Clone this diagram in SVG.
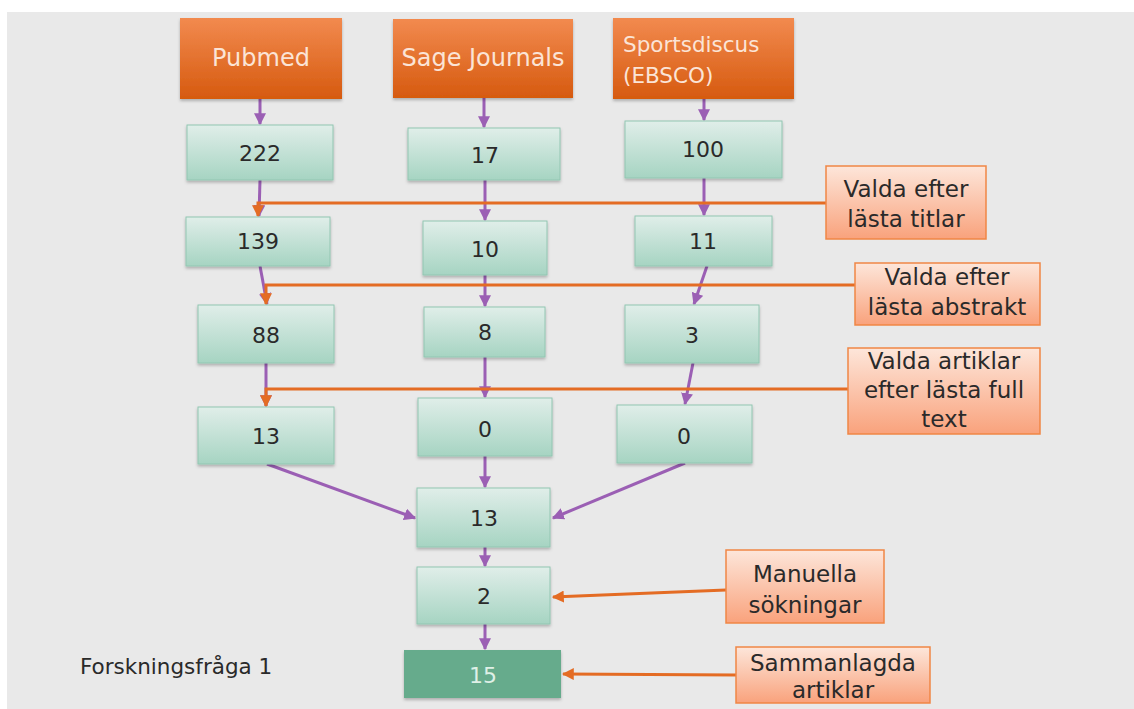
<svg xmlns="http://www.w3.org/2000/svg" width="1134" height="709" viewBox="0 0 1134 709">
<defs>
<linearGradient id="gOr" x1="0" y1="0" x2="0" y2="1"><stop offset="0" stop-color="#f28a4f"/><stop offset="1" stop-color="#d65a0f"/></linearGradient>
<linearGradient id="gGr" x1="0" y1="0" x2="0" y2="1"><stop offset="0" stop-color="#e0eee9"/><stop offset="1" stop-color="#a6d4c2"/></linearGradient>
<linearGradient id="gLb" x1="0" y1="0" x2="0" y2="1"><stop offset="0" stop-color="#fde6da"/><stop offset="1" stop-color="#f9a27c"/></linearGradient>
<filter id="sh" x="-10%" y="-10%" width="120%" height="130%"><feDropShadow dx="0" dy="2" stdDeviation="1.5" flood-color="#000" flood-opacity="0.25"/></filter>
<marker id="mP" viewBox="0 0 10 10" refX="9" refY="5" markerWidth="4" markerHeight="4" orient="auto"><path d="M0,0L10,5L0,10z" fill="#9b5fb4"/></marker>
<marker id="mO" viewBox="0 0 10 10" refX="9" refY="5" markerWidth="4" markerHeight="4" orient="auto"><path d="M0,0L10,5L0,10z" fill="#e46c24"/></marker>
</defs>
<style>
.hdr{fill:url(#gOr);filter:url(#sh)}
.num{fill:url(#gGr);stroke:#92c6b2;stroke-width:1;filter:url(#sh)}
.lab{fill:url(#gLb);stroke:#f08645;stroke-width:1.5}
text{font-family:"DejaVu Sans","Liberation Sans",sans-serif;font-size:23px;text-anchor:middle}
.ht{fill:#fbe4d6;font-size:24px}
.ht2{fill:#fbe4d6;font-size:21.5px;text-anchor:start}
.nt{fill:#2a2a2a;font-size:22px}
.lt{fill:#2a2a2a}
.pp{stroke:#9b5fb4;stroke-width:3;fill:none;marker-end:url(#mP)}
.oo{stroke:#e46c24;stroke-width:3;fill:none;marker-end:url(#mO)}
</style>
<rect x="0" y="0" width="1134" height="709" fill="#ffffff"/>
<rect x="7" y="12" width="1127" height="697" fill="#e9e9e9"/>

<g id="connectors">
<path class="pp" d="M260,98 L260,124"/>
<path class="pp" d="M484,98 L484,127"/>
<path class="pp" d="M704,99 L704,120"/>
<path class="pp" d="M260,180 L259,216"/>
<path class="pp" d="M485,180 L485,220"/>
<path class="pp" d="M704,178 L704,215"/>
<path class="pp" d="M260,266 L267,304"/>
<path class="pp" d="M485,275 L485,306"/>
<path class="pp" d="M707,266 L694,304"/>
<path class="pp" d="M266,363 L266,406"/>
<path class="pp" d="M485,357 L485,397"/>
<path class="pp" d="M693,363 L685,404"/>
<path class="pp" d="M267,464 L415,518"/>
<path class="pp" d="M485,456 L485,487"/>
<path class="pp" d="M685,463 L553,518"/>
<path class="pp" d="M485,547 L485,566"/>
<path class="pp" d="M485,624 L485,649"/>
<path class="oo" d="M826,203 L258,203 L258,216"/>
<path class="oo" d="M855,285 L266,285 L266,304"/>
<path class="oo" d="M848,389 L266,389 L266,406"/>
<path class="oo" d="M726,590 L553,597"/>
<path class="oo" d="M736,675 L563,674"/>
</g>

<g id="pubmed"><rect class="hdr" x="180" y="18" width="162" height="81"/><text class="ht" x="261" y="66">Pubmed</text></g>
<g id="sage"><rect class="hdr" x="393" y="19" width="180" height="79"/><text class="ht" x="483" y="66">Sage Journals</text></g>
<g id="sports"><rect class="hdr" x="613" y="18" width="181" height="81"/><text class="ht2" x="623" y="52">Sportsdiscus</text><text class="ht2" x="623" y="83">(EBSCO)</text></g>

<g id="n222"><rect class="num" x="187" y="125" width="146" height="55"/><text class="nt" x="260" y="161">222</text></g>
<g id="n17"><rect class="num" x="408" y="128" width="152" height="52"/><text class="nt" x="485" y="163">17</text></g>
<g id="n100"><rect class="num" x="625" y="121" width="157" height="57"/><text class="nt" x="703" y="157">100</text></g>

<g id="n139"><rect class="num" x="186" y="217" width="144" height="49"/><text class="nt" x="258" y="249">139</text></g>
<g id="n10"><rect class="num" x="423" y="221" width="124" height="54"/><text class="nt" x="485" y="257">10</text></g>
<g id="n11"><rect class="num" x="635" y="216" width="137" height="50"/><text class="nt" x="703" y="249">11</text></g>

<g id="n88"><rect class="num" x="198" y="305" width="136" height="58"/><text class="nt" x="266" y="343">88</text></g>
<g id="n8"><rect class="num" x="424" y="307" width="121" height="50"/><text class="nt" x="485" y="340">8</text></g>
<g id="n3"><rect class="num" x="625" y="305" width="134" height="58"/><text class="nt" x="692" y="343">3</text></g>

<g id="n13a"><rect class="num" x="198" y="407" width="136" height="57"/><text class="nt" x="266" y="444">13</text></g>
<g id="n0a"><rect class="num" x="418" y="398" width="134" height="58"/><text class="nt" x="485" y="437">0</text></g>
<g id="n0b"><rect class="num" x="617" y="405" width="135" height="58"/><text class="nt" x="684" y="444">0</text></g>

<g id="n13b"><rect class="num" x="417" y="488" width="133" height="59"/><text class="nt" x="484" y="526">13</text></g>
<g id="n2"><rect class="num" x="417" y="567" width="133" height="57"/><text class="nt" x="484" y="604">2</text></g>
<g id="n15"><rect x="404" y="650" width="157" height="48" fill="#66ab8c" filter="url(#sh)"/><text x="483" y="683" fill="#dff0e7" style="font-size:22px">15</text></g>

<g id="lab1"><rect class="lab" x="826" y="166" width="160" height="73"/><text class="lt" x="906" y="197">Valda efter</text><text class="lt" x="906" y="227">lästa titlar</text></g>
<g id="lab2"><rect class="lab" x="855" y="263" width="185" height="62"/><text class="lt" x="947" y="285">Valda efter</text><text class="lt" x="947" y="315">lästa abstrakt</text></g>
<g id="lab3"><rect class="lab" x="848" y="348" width="192" height="86"/><text class="lt" x="944" y="369">Valda artiklar</text><text class="lt" x="944" y="398">efter lästa full</text><text class="lt" x="944" y="427">text</text></g>
<g id="lab4"><rect class="lab" x="726" y="550" width="158" height="73"/><text class="lt" x="805" y="582">Manuella</text><text class="lt" x="805" y="613">sökningar</text></g>
<g id="lab5"><rect class="lab" x="736" y="647" width="194" height="56"/><text class="lt" x="833" y="671">Sammanlagda</text><text class="lt" x="833" y="698">artiklar</text></g>

<text x="80" y="674" style="text-anchor:start;font-size:21.5px" fill="#2a2a2a">Forskningsfråga 1</text>
</svg>
